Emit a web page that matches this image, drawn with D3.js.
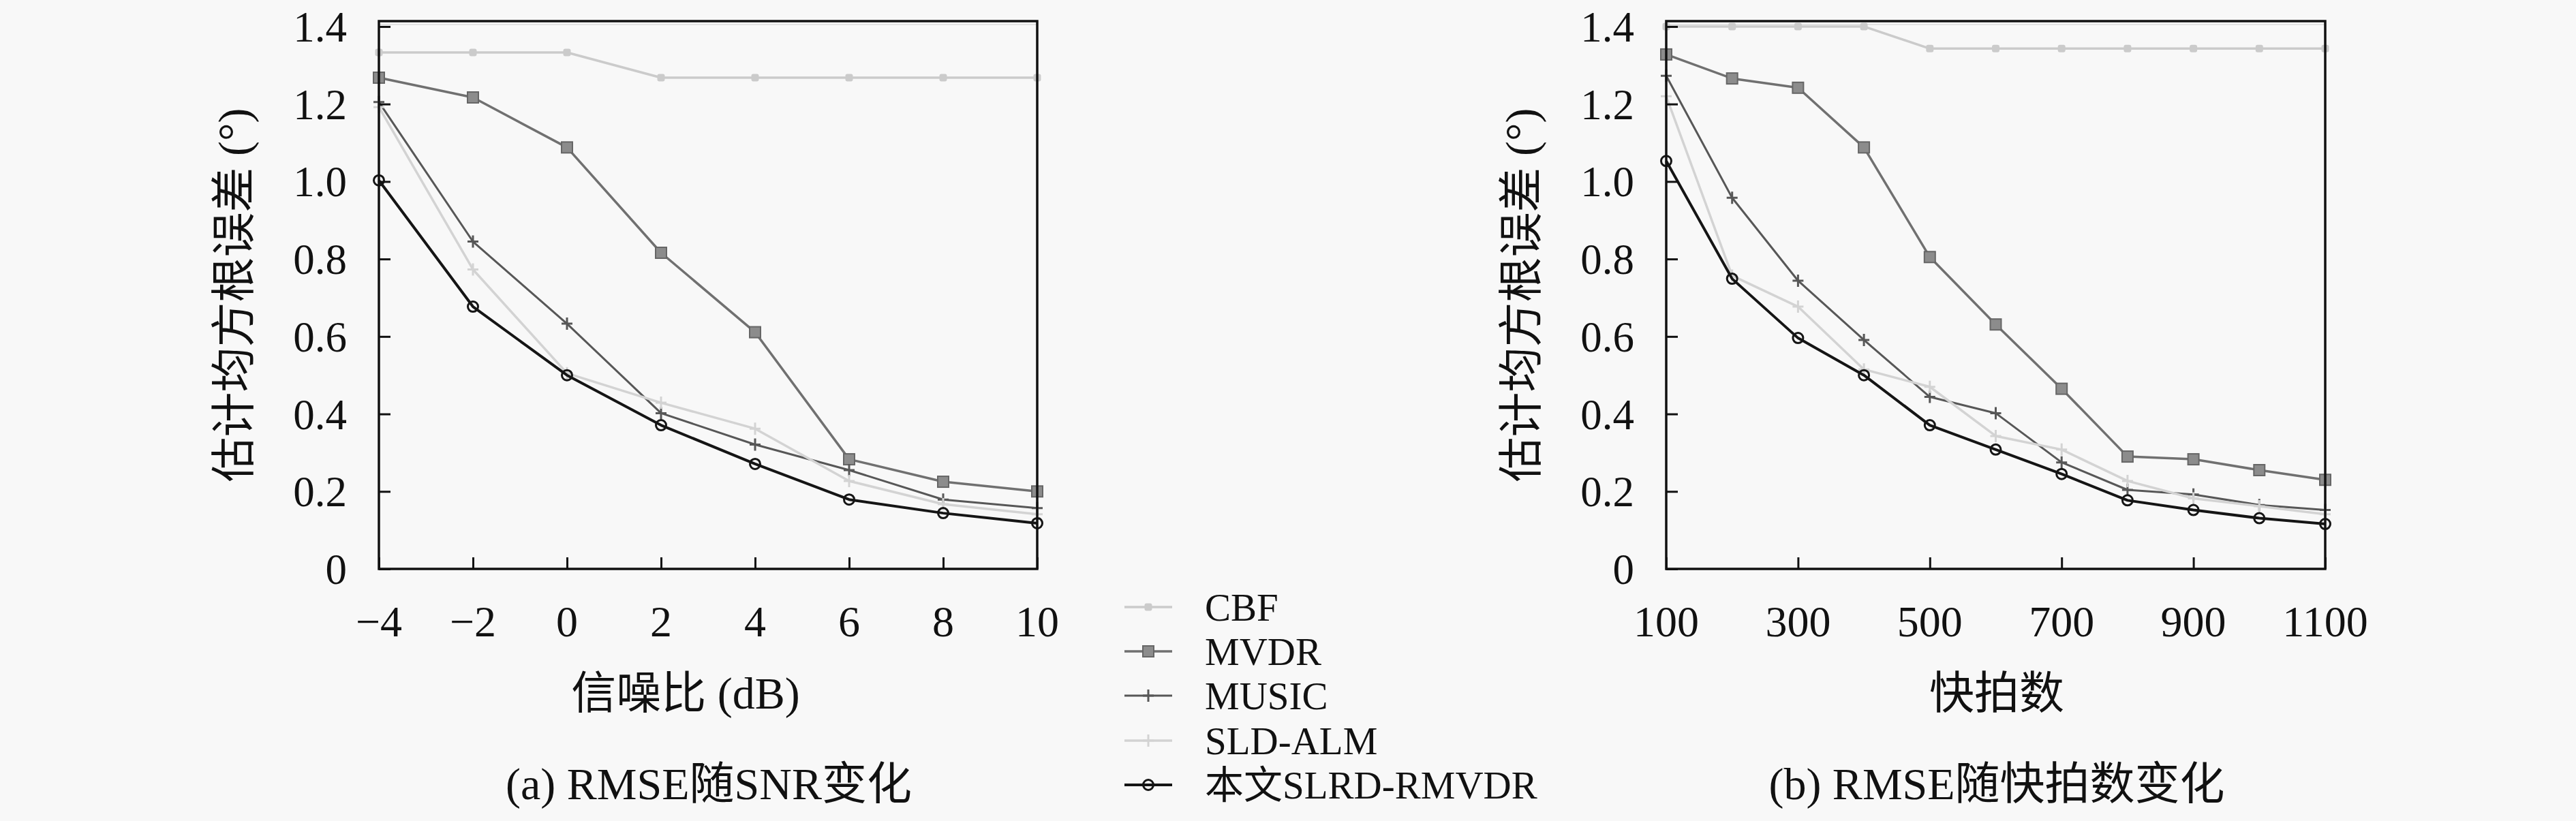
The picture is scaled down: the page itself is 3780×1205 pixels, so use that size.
<!DOCTYPE html>
<html>
<head>
<meta charset="utf-8">
<script src="https://cdn.jsdelivr.net/npm/d3@7"></script>
<style>
  html, body { margin: 0; padding: 0; background: #f8f8f8; }
  svg { display: block; }
  text { font-family: "Liberation Serif", "Noto Sans CJK SC", serif; fill: #111; }
</style>
</head>
<body>
<div class="fig"></div>
<script>
(function() {
  'use strict';

  const WIDTH = 3780;
  const HEIGHT = 1205;

  // Series names, in drawing order
  const SERIES = ['CBF', 'MVDR', 'MUSIC', 'SLD-ALM', '本文SLRD-RMVDR'];

  // (a) RMSE vs SNR
  const SNR = [-4, -2, 0, 2, 4, 6, 8, 10];
  const SNR_CBF    = [1.333, 1.333, 1.333, 1.268, 1.268, 1.268, 1.268, 1.268];
  const SNR_MVDR   = [1.268, 1.217, 1.088, 0.816, 0.611, 0.283, 0.225, 0.200];
  const SNR_MUSIC  = [1.205, 0.845, 0.633, 0.402, 0.321, 0.255, 0.179, 0.157];
  const SNR_SLD    = [1.192, 0.773, 0.505, 0.429, 0.362, 0.227, 0.167, 0.141];
  const SNR_RMVDR  = [1.003, 0.677, 0.500, 0.371, 0.271, 0.179, 0.144, 0.118];

  // (b) RMSE vs snapshots
  const SNAP = [100, 200, 300, 400, 500, 600, 700, 800, 900, 1000, 1100];
  const SNAP_CBF   = [1.400, 1.400, 1.400, 1.400, 1.343, 1.343, 1.343, 1.343, 1.343, 1.343, 1.343];
  const SNAP_MVDR  = [1.328, 1.266, 1.242, 1.088, 0.805, 0.631, 0.465, 0.290, 0.283, 0.255, 0.230];
  const SNAP_MUSIC = [1.273, 0.958, 0.744, 0.591, 0.444, 0.402, 0.275, 0.204, 0.192, 0.165, 0.152];
  const SNAP_SLD   = [1.220, 0.757, 0.677, 0.515, 0.470, 0.343, 0.308, 0.227, 0.182, 0.162, 0.141];
  const SNAP_RMVDR = [1.053, 0.749, 0.596, 0.500, 0.371, 0.308, 0.245, 0.177, 0.152, 0.131, 0.116];

  // Tick labels
  const Y_TICKS = [0, 0.2, 0.4, 0.6, 0.8, 1.0, 1.2, 1.4];
  const SNR_TICKS = [-4, -2, 0, 2, 4, 6, 8, 10];
  const SNAP_TICKS = [100, 300, 500, 700, 900, 1100];

  const Y_LABEL = '估计均方根误差 (°)';

  // Series styles
  const STYLE = {
    'CBF':            { color: '#cbcbcb', width: 3.5, marker: 'dot' },
    'MVDR':           { color: '#707070', width: 3.5, marker: 'square' },
    'MUSIC':          { color: '#575757', width: 3,   marker: 'plus' },
    'SLD-ALM':        { color: '#d3d3d3', width: 3.5, marker: 'plus' },
    '本文SLRD-RMVDR': { color: '#151515', width: 4,   marker: 'circle' }
  };

  const svg = d3.select('.fig')
    .append('svg')
    .attr('width', WIDTH)
    .attr('height', HEIGHT);

  svg.append('rect')
    .attr('width', WIDTH).attr('height', HEIGHT)
    .attr('fill', '#f8f8f8');

  function draw_marker(g, type, x, y, color) {
    if (type === 'dot') {
      g.append('rect')
        .attr('x', x - 5.5).attr('y', y - 5.5).attr('width', 11).attr('height', 11)
        .attr('rx', 3)
        .attr('fill', color);
    } else if (type === 'square') {
      g.append('rect')
        .attr('x', x - 8).attr('y', y - 8).attr('width', 16).attr('height', 16)
        .attr('fill', '#8c8c8c')
        .attr('stroke', '#666').attr('stroke-width', 2);
    } else if (type === 'plus') {
      g.append('path')
        .attr('d', 'M' + (x - 8) + ',' + y + 'H' + (x + 8) + 'M' + x + ',' + (y - 9) + 'V' + (y + 9))
        .attr('stroke', color).attr('stroke-width', 3).attr('fill', 'none');
    } else if (type === 'circle') {
      g.append('circle')
        .attr('cx', x).attr('cy', y).attr('r', 7.5)
        .attr('fill', 'none')
        .attr('stroke', color).attr('stroke-width', 3);
    }
  }

  function draw_panel(opt) {
    const x = d3.scaleLinear().domain(opt.xDomain).range([opt.left, opt.right]);
    const y = d3.scaleLinear().domain([0, 1.414]).range([835, 31]);
    const g = svg.append('g').attr('class', 'panel');

    // Faint line just under the top edge
    g.append('line')
      .attr('x1', opt.left).attr('x2', opt.right)
      .attr('y1', 36).attr('y2', 36)
      .attr('stroke', '#dcdcdc').attr('stroke-width', 1.5);

    // Series
    for (let i = 0; i < SERIES.length; ++i) {
      const st = STYLE[SERIES[i]];
      const pts = opt.xs.map(function(d, j) { return [d, opt.ys[i][j]]; });
      const line = d3.line()
        .x(function(d) { return x(d[0]); })
        .y(function(d) { return y(d[1]); });
      const sg = g.append('g').attr('class', 'series');
      sg.append('path')
        .attr('d', line(pts))
        .attr('fill', 'none')
        .attr('stroke', st.color)
        .attr('stroke-width', st.width)
        .attr('stroke-linejoin', 'round');
      pts.forEach(function(p) {
        draw_marker(sg, st.marker, x(p[0]), y(p[1]), st.color);
      });
    }

    // Axes with inward ticks
    const ax = g.append('g').attr('transform', 'translate(0,835)')
      .call(d3.axisTop(x).tickValues(opt.ticks).tickSize(17).tickFormat(''));
    const ay = g.append('g').attr('transform', 'translate(' + opt.left + ',0)')
      .call(d3.axisRight(y).tickValues(Y_TICKS).tickSize(17).tickFormat(''));
    [ax, ay].forEach(function(a) {
      a.select('.domain').remove();
      a.selectAll('line').attr('stroke', '#111').attr('stroke-width', 3);
    });

    // Tick labels
    g.selectAll('.xl').data(opt.ticks).enter().append('text')
      .attr('x', function(d) { return x(d); })
      .attr('y', 934)
      .attr('text-anchor', 'middle')
      .attr('font-size', 64)
      .text(function(d) { return d < 0 ? '\u2212' + (-d) : d; });
    g.selectAll('.yl').data(Y_TICKS).enter().append('text')
      .attr('x', opt.left - 47)
      .attr('y', function(d) { return y(d) + 22; })
      .attr('text-anchor', 'end')
      .attr('font-size', 63)
      .text(function(d) { return d === 0 ? '0' : d.toFixed(1); });

    // Frame
    g.append('rect')
      .attr('x', opt.left).attr('y', 31)
      .attr('width', opt.right - opt.left).attr('height', 804)
      .attr('fill', 'none').attr('stroke', '#111').attr('stroke-width', 3.5);

    // Titles
    g.append('text')
      .attr('transform', 'translate(' + (opt.left - 190) + ',433) rotate(-90)')
      .attr('text-anchor', 'middle')
      .attr('font-size', 66)
      .text(Y_LABEL);
    g.append('text')
      .attr('x', opt.xTitleX).attr('y', 1040)
      .attr('text-anchor', 'middle')
      .attr('font-size', 66)
      .text(opt.xTitle);
    g.append('text')
      .attr('x', opt.capX).attr('y', 1173)
      .attr('text-anchor', 'middle')
      .attr('font-size', 66)
      .text(opt.caption);
  }

  draw_panel({
    left: 556, right: 1522,
    xDomain: [-4, 10], xs: SNR, ticks: SNR_TICKS,
    ys: [SNR_CBF, SNR_MVDR, SNR_MUSIC, SNR_SLD, SNR_RMVDR],
    xTitle: '信噪比 (dB)', xTitleX: 1006,
    caption: '(a) RMSE随SNR变化', capX: 1040
  });

  draw_panel({
    left: 2445, right: 3412,
    xDomain: [100, 1100], xs: SNAP, ticks: SNAP_TICKS,
    ys: [SNAP_CBF, SNAP_MVDR, SNAP_MUSIC, SNAP_SLD, SNAP_RMVDR],
    xTitle: '快拍数', xTitleX: 2930,
    caption: '(b) RMSE随快拍数变化', capX: 2930
  });

  // Legend between panels
  const legend = svg.append('g').attr('class', 'legend');
  const ROW_Y = [891, 956, 1021, 1087, 1152];
  for (let i = 0; i < SERIES.length; ++i) {
    const st = STYLE[SERIES[i]];
    const row = legend.append('g');
    row.append('line')
      .attr('x1', 1650).attr('x2', 1720)
      .attr('y1', ROW_Y[i]).attr('y2', ROW_Y[i])
      .attr('stroke', st.color).attr('stroke-width', st.width);
    draw_marker(row, st.marker, 1685, ROW_Y[i], st.color);
    row.append('text')
      .attr('x', 1768).attr('y', ROW_Y[i] + 20)
      .attr('font-size', 57)
      .text(SERIES[i]);
  }
})();
</script>
</body>
</html>
